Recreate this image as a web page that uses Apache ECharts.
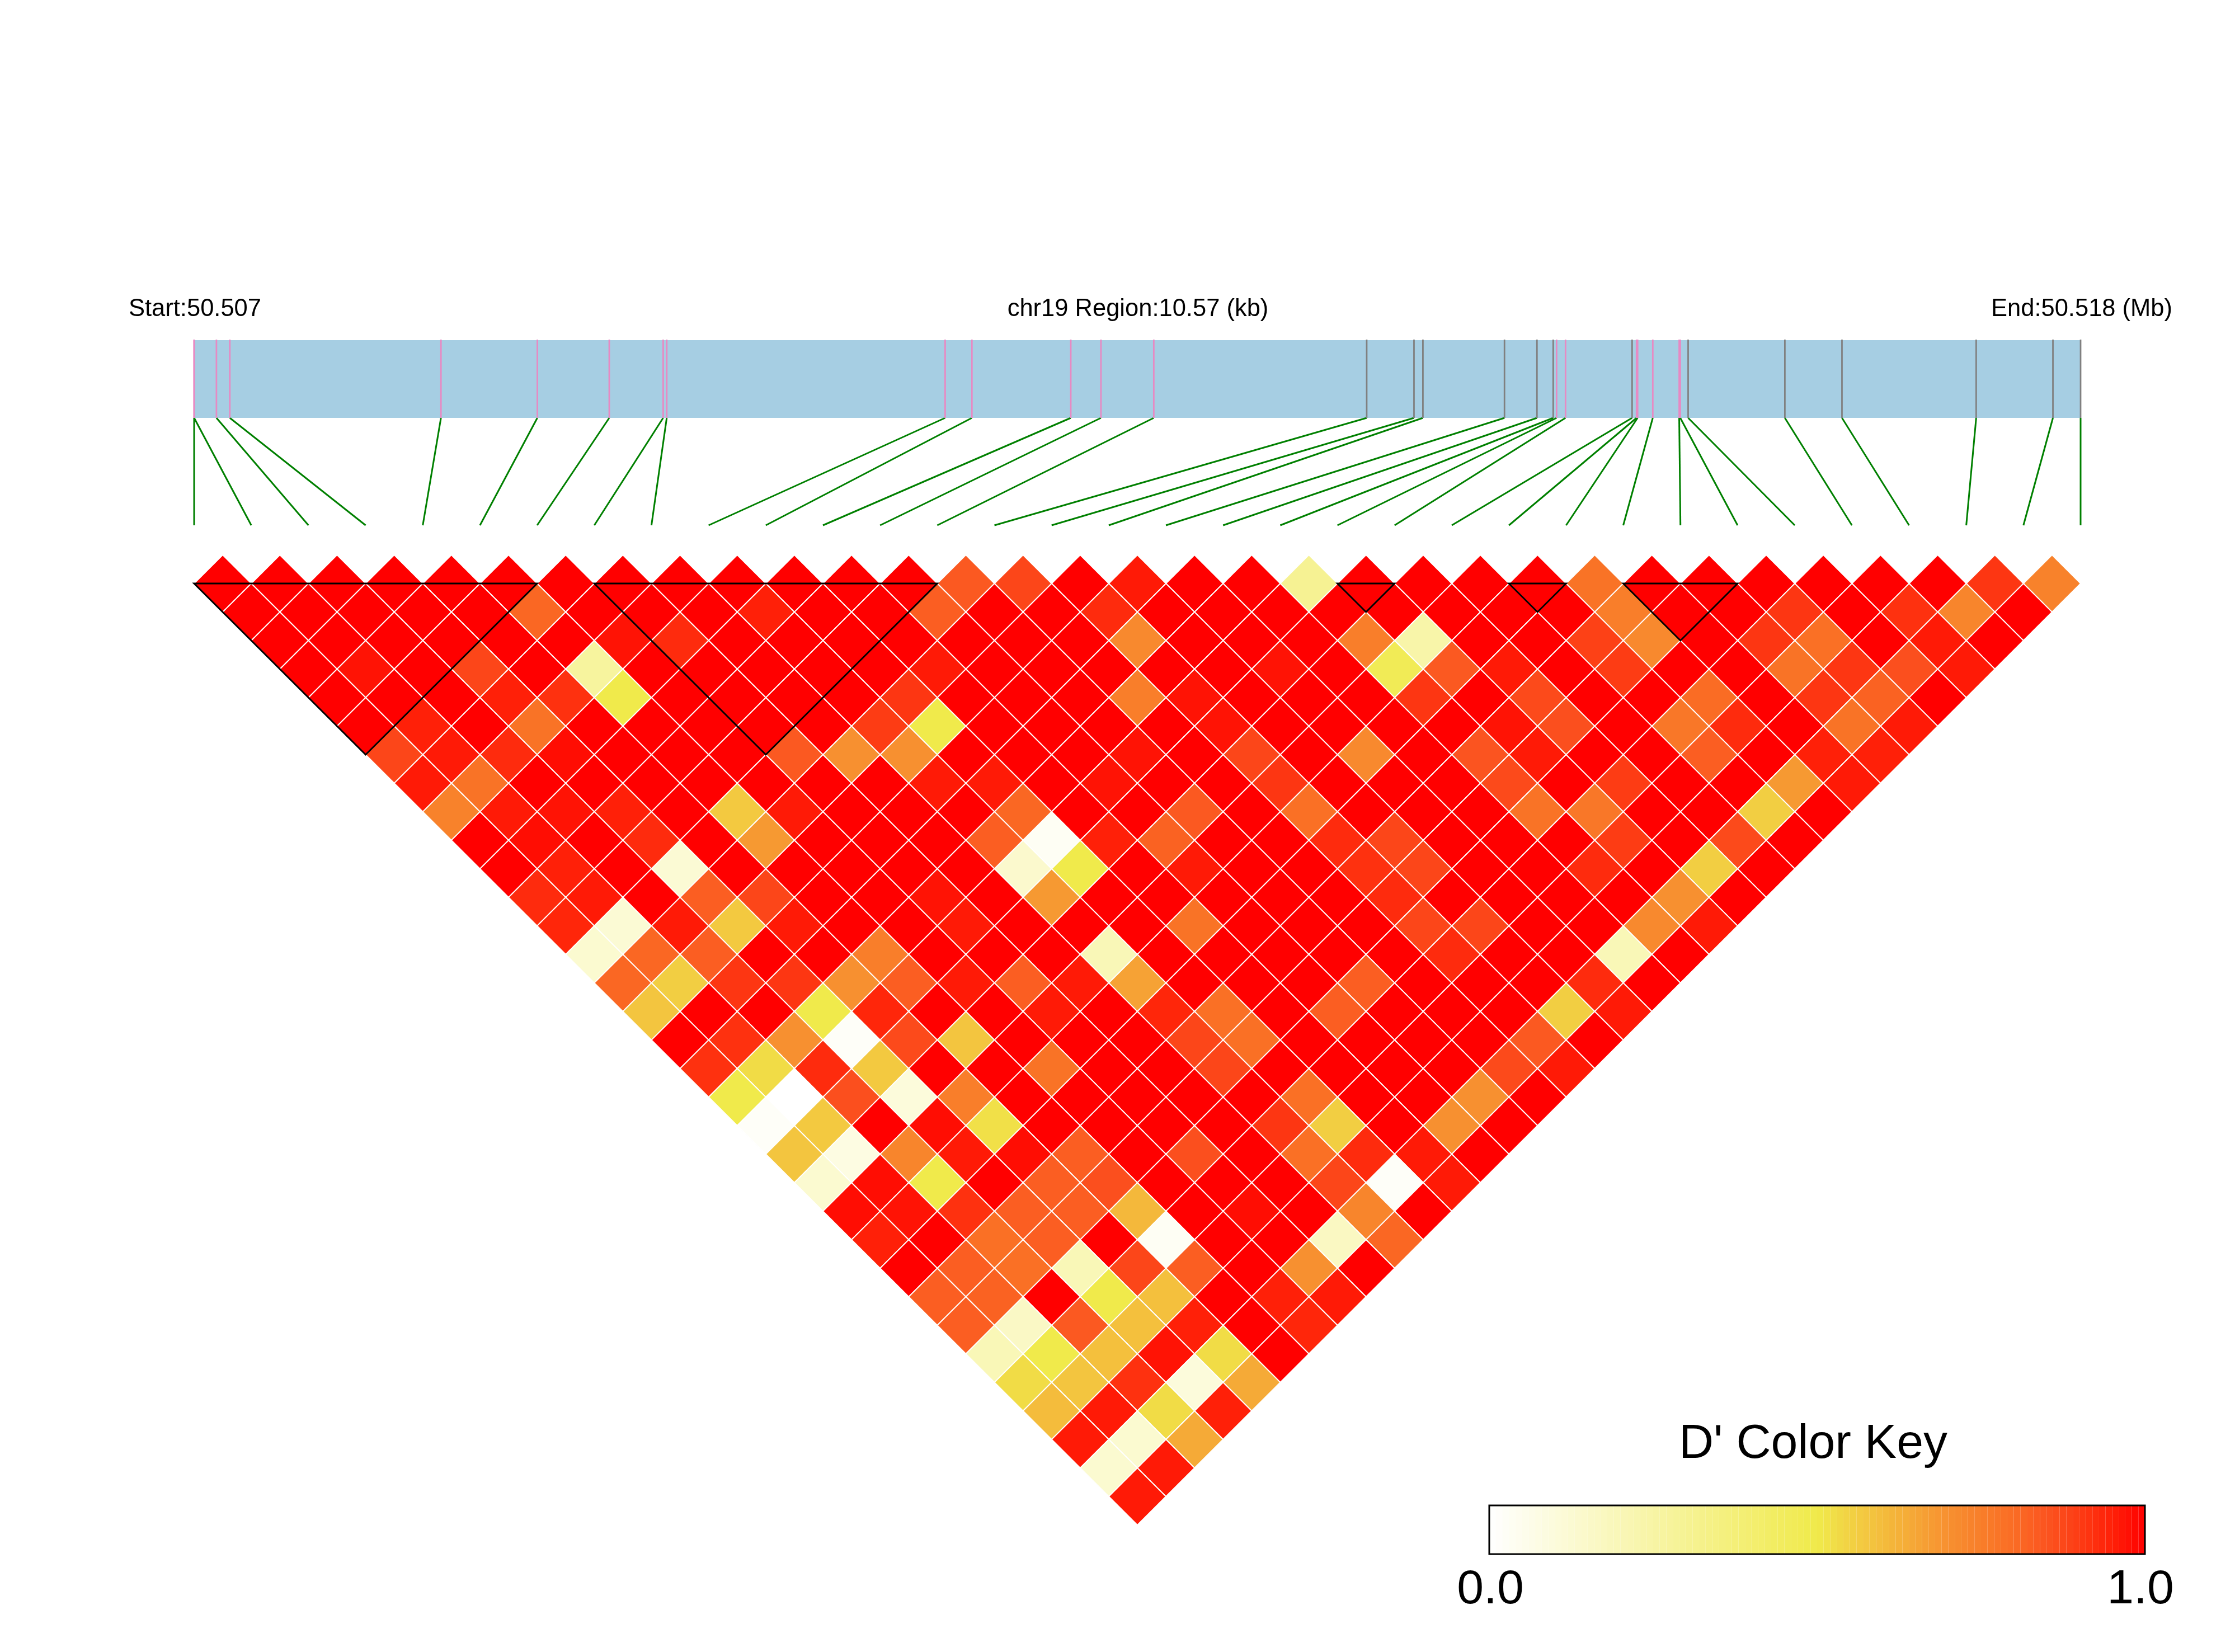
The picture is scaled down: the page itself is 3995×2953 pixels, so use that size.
<!DOCTYPE html>
<html>
<head>
<meta charset="utf-8">
<style>html,body{margin:0;padding:0;background:#fff}#c{width:3995px;height:2953px}</style>
<script src="https://cdn.jsdelivr.net/npm/echarts@6/dist/echarts.min.js"></script>
</head>
<body>
<div id="c"></div>
<script>
// SNP positions along the region, in kb from the region start
const snpKb = [0,0,.125,.2,1.383,1.923,2.326,2.628,2.648,4.208,4.358,4.912,5.081,5.377,6.57,6.835,6.885,7.342,7.524,7.615,7.634,7.684,8.057,8.082,8.088,8.173,8.321,8.327,8.371,8.913,9.233,9.985,10.415,10.57];
// 1 = pink marker, 0 = grey marker
const snpPink = [1,1,1,1,1,1,1,1,1,1,1,1,1,1,0,0,0,0,0,0,1,1,0,1,1,1,1,1,0,0,0,0,0,0];
const regionKb = 10.57;
// LD blocks: first and last SNP index
const blockFirst = [0,7,20,23,25];
const blockLast  = [6,13,21,24,27];
// D' values, one list per distance between SNPs
const d01=[1,1,1,1,1,1,1,1,1,1,1,1,1,.84,.88,1,.96,1,1,.3,1,1,1,1,.78,1,1,1,1,1,1,.91,.74];
const d02=[1,1,1,1,1,.81,1,1,1,.95,1,1,.83,1,1,.93,1,1,1,1,1,1,1,1,.75,1,1,.91,1,.92,.73,1];
const d03=[1,1,1,1,1,1,.97,.93,1,1,1,1,1,1,1,.72,1,1,1,.75,.24,1,1,.89,.72,1,.91,.79,1,.96,1];
const d04=[1,.97,1,.88,1,.27,1,1,1,1,1,.96,1,1,1,1,1,.97,1,.47,.84,.96,1,.9,1,1,.78,.91,.86,.96];
const d05=[1,1,1,.95,.92,.5,1,1,1,1,.91,1,1,1,.75,.97,1,1,1,.91,1,.87,1,1,.8,1,.91,.82,1];
const d06=[1,.95,1,.78,1,1,1,1,1,.9,.5,1,1,1,1,.97,1,1,1,1,.97,.86,1,.77,.93,1,.78,.96];
const d07=[.88,.96,.93,.98,1,1,1,.84,.7,.7,1,1,1,.97,1,.88,1,.72,1,.85,.96,1,1,.83,1,.95,.95];
const d08=[.96,.78,1,1,1,1,1,1,1,.96,.96,1,.97,1,1,.91,1,1,1,.87,1,.9,1,1,.68,.96];
const d09=[.74,.96,.97,.95,1,.57,.96,1,1,1,.81,1,1,.84,1,.79,1,1,1,.78,.77,1,1,.56,1];
const d10=[1,.98,1,.93,1,.68,1,1,1,.83,.03,.95,.82,1,1,.93,.88,1,1,1,.9,1,.87,1];
const d11=[1,.95,1,.12,1,1,1,1,1,.14,.5,1,.96,1,1,.92,.88,1,1,.93,1,.56,1];
const d12=[.93,.96,1,.83,.88,1,1,.97,1,.68,1,1,1,1,1,.93,1,1,1,1,.7,1];
const d13=[.94,.12,.96,.57,.96,1,1,.96,1,1,1,.78,1,1,1,.88,.88,1,1,.72,.96];
const d14=[.13,.81,.83,1,1,.75,1,1,1,.2,1,1,1,1,1,.93,1,1,.2,1];
const d15=[.81,.56,.91,.91,.7,.83,.96,.83,.96,.66,1,1,1,.83,1,1,1,.93,1];
const d16=[.58,1,1,.5,.94,1,1,.96,1,.94,.79,1,.83,1,1,1,.56,.96];
const d17=[1,.92,.7,.02,.87,.58,1,1,1,.88,.79,1,1,1,1,.84,1];
const d18=[.92,.53,.93,.57,1,1,.78,1,1,.88,1,1,1,1,.87,.96];
const d19=[.5,0,.86,.1,.75,1,1,1,1,1,.79,1,1,.7,1];
const d20=[.02,.57,1,.98,.52,1,1,1,1,.91,.56,1,.7,1];
const d21=[.58,.08,.73,.96,.98,.83,1,.86,1,.79,.93,.96,1];
const d22=[.13,.98,.5,1,.83,.86,1,1,1,.88,.02,.96];
const d23=[.98,.97,.92,.83,.83,.61,1,.98,1,.73,1];
const d24=[.95,1,.79,.83,1,.03,1,1,.17,.81];
const d25=[1,.83,.79,.2,.88,.83,1,.7,1];
const d26=[.83,.82,1,.5,.59,1,.95,.96];
const d27=[.83,.16,.84,.59,.95,1,.94];
const d28=[.2,.5,.59,.97,.53,1];
const d29=[.53,.58,.92,.1,.64];
const d30=[.6,.96,.53,.95];
const d31=[.96,.13,.64];
const d32=[.13,.96];
const d33=[.96];
const ldRows=[d01,d02,d03,d04,d05,d06,d07,d08,d09,d10,d11,d12,d13,d14,d15,d16,d17,d18,d19,d20,d21,d22,d23,d24,d25,d26,d27,d28,d29,d30,d31,d32,d33];
// Texts
const startLabel='Start:50.507', regionLabel='chr19 Region:10.57 (kb)', endLabel='End:50.518 (Mb)';
const keyTitle="D' Color Key", keyTicks=['0.0','1.0'];

// Colour ramp of the key
const rampAt=[0,.5,.55,.6,.7,.8,.85,.9,.95,1];
const rampHex=['#FFFFFF','#F0EA4B','#F2D243','#F4BC3C','#F79030','#FA6C24','#FB5420','#FD3C14','#FF2008','#FF0000'];
const FONT='"Liberation Sans"';
function hexRgb(h){return [1,3,5].map(i=>parseInt(h.slice(i,i+2),16));}
function ramp(v){
  let i=0; while(i<rampAt.length-2 && v>rampAt[i+1]) i++;
  const t=Math.max(0,Math.min(1,(v-rampAt[i])/(rampAt[i+1]-rampAt[i])));
  const a=hexRgb(rampHex[i]),b=hexRgb(rampHex[i+1]);
  return 'rgb('+a.map((c,n)=>Math.round(c+(b[n]-c)*t)).join(',')+')';
}
const cells=[];
ldRows.forEach((row,r)=>row.forEach((v,k)=>cells.push([k,r+1,v])));
const keyBins=[]; for(let i=0;i<100;i++) keyBins.push([i/100,(i+1)/100]);

const bareAxis=(gridIndex,min,max,inverse)=>({type:'value',gridIndex,min,max,inverse:!!inverse,show:false,scale:false});
const option={
  animation:false,
  backgroundColor:'#fff',
  grid:[
    {left:347,width:3372,top:992,height:1734},
    {left:347,width:3372,top:608,height:139},
    {left:347,width:3372,top:747,height:192},
    {left:2662,width:1172,top:2691,height:87}
  ],
  xAxis:[bareAxis(0,0,33),bareAxis(1,0,regionKb),bareAxis(2,0,33),bareAxis(3,0,1)],
  yAxis:[bareAxis(0,-1,33,true),bareAxis(1,0,1),bareAxis(2,0,1,true),bareAxis(3,0,1)],
  series:[
    {type:'custom',xAxisIndex:0,yAxisIndex:0,data:cells,progressive:0,silent:true,
     encode:{x:0,y:1},
     renderItem(p,api){
       const k=api.value(0),r=api.value(1),v=api.value(2),u=k+r/2,d=r-1;
       const pts=[[u,d-1],[u+.5,d],[u,d+1],[u-.5,d]].map(q=>api.coord(q));
       return {type:'polygon',shape:{points:pts},style:{fill:ramp(v),stroke:'#fff',lineWidth:1.8}};
     }},
    {type:'custom',xAxisIndex:0,yAxisIndex:0,data:blockFirst.map((s,i)=>[s,blockLast[i]]),silent:true,z:5,
     encode:{x:0,y:1},
     renderItem(p,api){
       const s=api.value(0),e=api.value(1);
       const pts=[[s,0],[e,0],[(s+e)/2,e-s]].map(q=>api.coord(q));
       return {type:'polygon',shape:{points:pts},style:{fill:'none',stroke:'#000',lineWidth:3}};
     }},
    {type:'custom',xAxisIndex:1,yAxisIndex:1,data:[[0,regionKb]],silent:true,
     encode:{x:[0,1]},
     renderItem(p,api){
       const a=api.coord([api.value(0),1]),b=api.coord([api.value(1),0]);
       return {type:'rect',shape:{x:a[0],y:a[1],width:b[0]-a[0],height:b[1]-a[1]},style:{fill:'#A6CEE3'}};
     }},
    {type:'custom',xAxisIndex:1,yAxisIndex:1,data:snpKb.map((x,i)=>[x,snpPink[i]]),silent:true,z:3,
     encode:{x:0},
     renderItem(p,api){
       const a=api.coord([api.value(0),1]),b=api.coord([api.value(0),0]);
       return {type:'line',shape:{x1:a[0],y1:a[1]-1,x2:b[0],y2:b[1]},style:{stroke:api.value(1)?'#E78AC3':'#808080',lineWidth:2.8}};
     }},
    {type:'custom',xAxisIndex:2,yAxisIndex:2,data:snpKb.map((x,i)=>[x/regionKb*33,i]),silent:true,
     encode:{x:[0,1]},
     renderItem(p,api){
       const a=api.coord([api.value(0),0]),b=api.coord([api.value(1),1]);
       return {type:'line',shape:{x1:a[0],y1:a[1],x2:b[0],y2:b[1]},style:{stroke:'#008000',lineWidth:3}};
     }},
    {type:'custom',xAxisIndex:3,yAxisIndex:3,data:keyBins,silent:true,
     encode:{x:[0,1]},
     renderItem(p,api){
       const a=api.coord([api.value(0),1]),b=api.coord([api.value(1),0]);
       return {type:'rect',shape:{x:a[0],y:a[1],width:b[0]-a[0],height:b[1]-a[1]},
               style:{fill:ramp((api.value(0)+api.value(1))/2),stroke:null}};
     }},
    {type:'custom',xAxisIndex:3,yAxisIndex:3,data:[[0,1]],silent:true,z:5,
     encode:{x:[0,1]},
     renderItem(p,api){
       const a=api.coord([api.value(0),1]),b=api.coord([api.value(1),0]);
       return {type:'rect',shape:{x:a[0],y:a[1],width:b[0]-a[0],height:b[1]-a[1]},style:{fill:'none',stroke:'#000',lineWidth:3}};
     }}
  ],
  graphic:[
    {type:'text',x:230,y:553,style:{text:startLabel,font:'43.5px '+FONT,fill:'#000',align:'left',verticalAlign:'middle'}},
    {type:'text',x:2034,y:553,style:{text:regionLabel,font:'43.5px '+FONT,fill:'#000',align:'center',verticalAlign:'middle'}},
    {type:'text',x:3559,y:553,style:{text:endLabel,font:'43.5px '+FONT,fill:'#000',align:'left',verticalAlign:'middle'}},
    {type:'text',x:3241,y:2582,style:{text:keyTitle,font:'86px '+FONT,fill:'#000',align:'center',verticalAlign:'middle'}},
    {type:'text',x:2664,y:2842,style:{text:keyTicks[0],font:'86px '+FONT,fill:'#000',align:'center',verticalAlign:'middle'}},
    {type:'text',x:3826,y:2842,style:{text:keyTicks[1],font:'86px '+FONT,fill:'#000',align:'center',verticalAlign:'middle'}}
  ]
};
const chart=echarts.init(document.getElementById('c'),null,{renderer:'canvas',width:3995,height:2953});
chart.setOption(option);
</script>
</body>
</html>
